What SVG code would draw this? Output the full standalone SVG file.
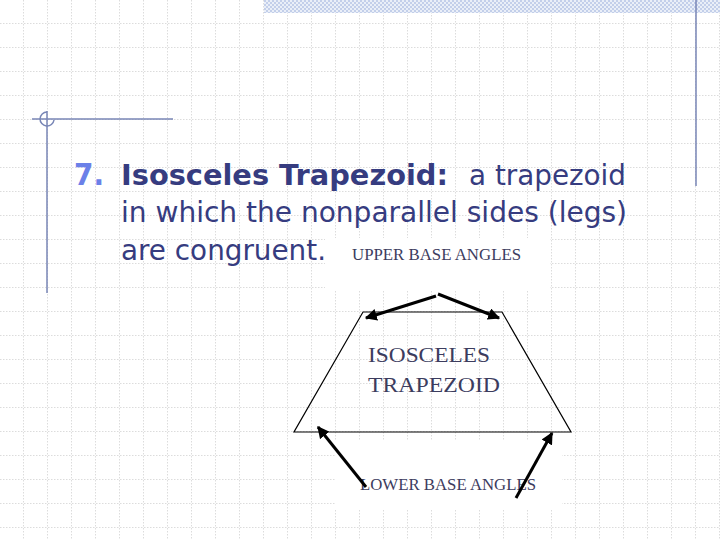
<svg xmlns="http://www.w3.org/2000/svg" width="720" height="540" viewBox="0 0 720 540">
<defs>
<pattern id="grid" width="24" height="24" patternUnits="userSpaceOnUse">
<path d="M24 0V24M0 24H24" fill="none" stroke="#b8b8b8" stroke-width="1" stroke-dasharray="1.5 1.5"/>
</pattern>
<pattern id="hatch" width="4" height="4" patternUnits="userSpaceOnUse">
<rect width="4" height="4" fill="#eaeff8"/>
<rect width="2" height="2" fill="#c3cfea"/>
<rect x="2" y="2" width="2" height="2" fill="#c3cfea"/>
</pattern>
<marker id="ah" viewBox="0 0 10 10" refX="9" refY="5" markerWidth="4" markerHeight="4" orient="auto" markerUnits="strokeWidth">
<path d="M0 0L10 5L0 10z" fill="#000"/>
</marker>
<style>
.deco{stroke:#7886b6;stroke-width:1.5;fill:none}
.title{font-family:Tahoma,"DejaVu Sans",Verdana,sans-serif;font-size:29px;fill:#363c80}
.b{font-weight:bold}
.num{font-family:Tahoma,"DejaVu Sans",Verdana,sans-serif;font-size:31px;font-weight:bold;fill:#6b80e8}
.lbl{font-family:"Liberation Serif","Times New Roman",serif;fill:#3c3c5e}
.shape{fill:none;stroke:#000;stroke-width:1.2}
.arrow{stroke:#000;stroke-width:3;fill:none;marker-end:url(#ah)}
</style>
</defs>
<rect width="720" height="540" fill="#fff"/>
<rect width="720" height="540" fill="url(#grid)"/>
<rect x="264" y="0" width="456" height="13" fill="url(#hatch)"/>
<rect x="325" y="238" width="225" height="52" fill="#fff"/>
<rect x="335" y="440" width="227" height="70" fill="#fff"/>
<g id="decor">
<line class="deco" x1="696" y1="0" x2="696" y2="186"/>
<line class="deco" x1="32" y1="119" x2="173" y2="119"/>
<line class="deco" x1="47" y1="111" x2="47" y2="293"/>
<path class="deco" d="M47 112 A7 7 0 1 0 54 120" stroke-width="1"/>
</g>
<g id="title">
<text class="num" x="74" y="185" textLength="30" lengthAdjust="spacingAndGlyphs">7.</text>
<text class="title" y="185"><tspan class="b" x="121" textLength="327" lengthAdjust="spacingAndGlyphs">Isosceles Trapezoid:</tspan><tspan x="469" textLength="157" lengthAdjust="spacingAndGlyphs">a trapezoid</tspan></text>
<text class="title" x="121" y="222" textLength="506" lengthAdjust="spacingAndGlyphs">in which the nonparallel sides (legs)</text>
<text class="title" x="121" y="260" textLength="205" lengthAdjust="spacingAndGlyphs">are congruent.</text>
</g>
<g id="trapezoid">
<polygon class="shape" points="363,312 502,312 571,432 294,432"/>
<text class="lbl" x="368" y="362" font-size="22" textLength="122" lengthAdjust="spacingAndGlyphs">ISOSCELES</text>
<text class="lbl" x="368" y="392" font-size="22" textLength="132" lengthAdjust="spacingAndGlyphs">TRAPEZOID</text>
</g>
<g id="upper-label">
<text class="lbl" x="352" y="260" font-size="16" textLength="169" lengthAdjust="spacingAndGlyphs">UPPER BASE ANGLES</text>
</g>
<g id="lower-label">
<text class="lbl" x="360" y="490" font-size="17" textLength="176" lengthAdjust="spacingAndGlyphs">LOWER BASE ANGLES</text>
</g>
<g id="connectors">
<line class="arrow" x1="436" y1="296" x2="366" y2="318"/>
<line class="arrow" x1="438" y1="294" x2="499" y2="318"/>
<line class="arrow" x1="366" y1="487" x2="318" y2="427"/>
<line class="arrow" x1="516" y1="498" x2="552" y2="433"/>
</g>
</svg>
